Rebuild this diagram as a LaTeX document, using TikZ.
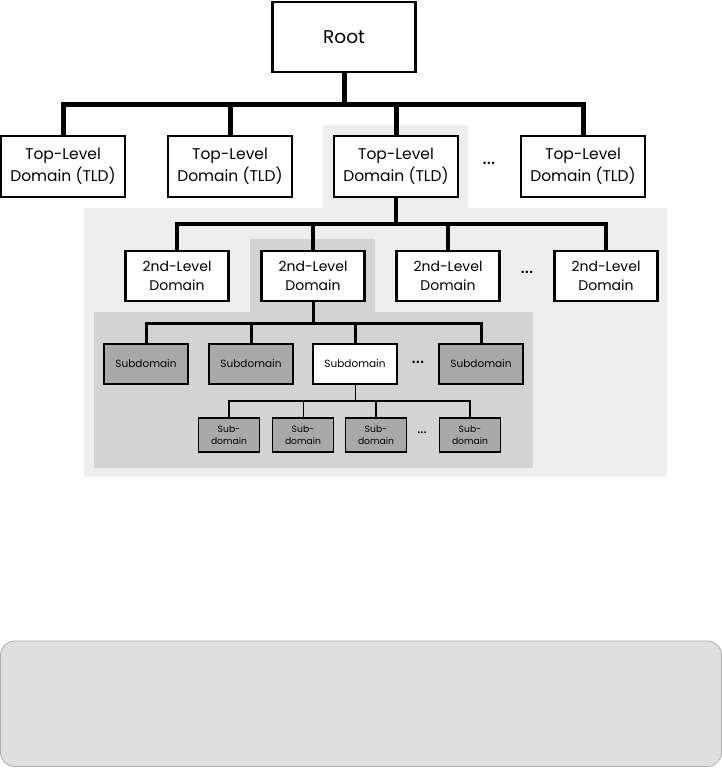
\documentclass[tikz,border=0pt]{standalone}
\usepackage{fontspec}
\setmainfont{Poppins}
\definecolor{lightbg}{HTML}{EEEEEE}
\definecolor{midbg}{HTML}{D3D3D3}
\definecolor{subgray}{HTML}{A9A9A9}
\definecolor{panelfill}{HTML}{DFDFDF}
\definecolor{panelline}{HTML}{AEAEAE}
\begin{document}
\begin{tikzpicture}[x=1pt,y=-1pt,
  box/.style={draw, fill=white, inner sep=0pt, align=center},
  rootbox/.style={box, line width=2.5pt, minimum width=143pt, minimum height=70pt, font=\fontsize{18.5}{22}\selectfont},
  tldbox/.style={box, line width=2.5pt, minimum width=124pt, minimum height=61pt, font=\fontsize{15.5}{22}\selectfont},
  sldbox/.style={box, line width=2.3pt, minimum width=103pt, minimum height=50pt, font=\fontsize{14}{19}\selectfont},
  subbox/.style={box, line width=2pt, fill=subgray, minimum width=84pt, minimum height=40pt, font=\fontsize{10.5}{14}\selectfont},
  ssbox/.style={box, line width=1.6pt, fill=subgray, minimum width=61pt, minimum height=34pt, font=\fontsize{9.2}{12.5}\selectfont},
  dots/.style={inner sep=0pt, font=\fontsize{20}{22}\selectfont},
  wA/.style={line width=5pt, line join=miter},
  wB/.style={line width=4pt, line join=miter},
  wC/.style={line width=3pt, line join=miter},
  wD/.style={line width=1.8pt, line join=miter},
  wE/.style={line width=1pt, line join=miter}
]
\useasboundingbox (0,0) rectangle (722,768);

% background regions
\fill[lightbg] (323,125) rectangle (468,209);
\fill[lightbg] (84,208) rectangle (667,477);
\fill[midbg] (250,239) rectangle (375,313);
\fill[midbg] (94,312) rectangle (533,468);

% bottom panel
\draw[panelline, fill=panelfill, line width=0.8pt, rounded corners=14pt] (0.5,641) rectangle (721.5,766.5);

% nodes
\node[rootbox] (root) at (344,37) {Root};

\node[tldbox] (tld1) at (63,166.5) {Top-Level\\Domain (TLD)};
\node[tldbox] (tld2) at (230,166.5) {Top-Level\\Domain (TLD)};
\node[tldbox] (tld3) at (396,166.5) {Top-Level\\Domain (TLD)};
\node[dots] (d1) at (489,163) {...};
\node[tldbox] (tld4) at (583,166.5) {Top-Level\\Domain (TLD)};

\node[sldbox] (sld1) at (177,276) {2nd-Level\\Domain};
\node[sldbox] (sld2) at (313,276) {2nd-Level\\Domain};
\node[sldbox] (sld3) at (448,276) {2nd-Level\\Domain};
\node[dots] (d2) at (527,272) {...};
\node[sldbox] (sld4) at (606,276) {2nd-Level\\Domain};

\node[subbox] (sub1) at (146,364) {Subdomain};
\node[subbox] (sub2) at (251,364) {Subdomain};
\node[subbox, fill=white] (sub3) at (355,364) {Subdomain};
\node[dots] (d3) at (418,362) {...};
\node[subbox] (sub4) at (481,364) {Subdomain};

\node[ssbox] (ss1) at (229,435) {Sub-\\domain};
\node[ssbox] (ss2) at (303,435) {Sub-\\domain};
\node[ssbox] (ss3) at (376,435) {Sub-\\domain};
\node[dots, font=\fontsize{15}{16}\selectfont] (d4) at (422,433) {...};
\node[ssbox] (ss4) at (470,435) {Sub-\\domain};

% connectors
\coordinate (b1) at (344,104);
\foreach \c in {tld1,tld2,tld3,tld4}
  \draw[wA] (root.south) -- (b1) -| (\c.north);

\coordinate (b2) at (396,224);
\foreach \c in {sld1,sld2,sld3,sld4}
  \draw[wB] (tld3.south) -- (b2) -| (\c.north);

\coordinate (b3) at (313,323);
\foreach \c in {sub1,sub2,sub3,sub4}
  \draw[wC] (sld2.south) -- (b3) -| (\c.north);

\coordinate (b4) at (355,401);
\draw[wE] (sub3.south) -- (b4);
\foreach \c in {ss1,ss3,ss4}
  \draw[wD] (b4) -| (\c.north);
\draw[wE] (b4) -| (ss2.north);
\end{tikzpicture}
\end{document}
